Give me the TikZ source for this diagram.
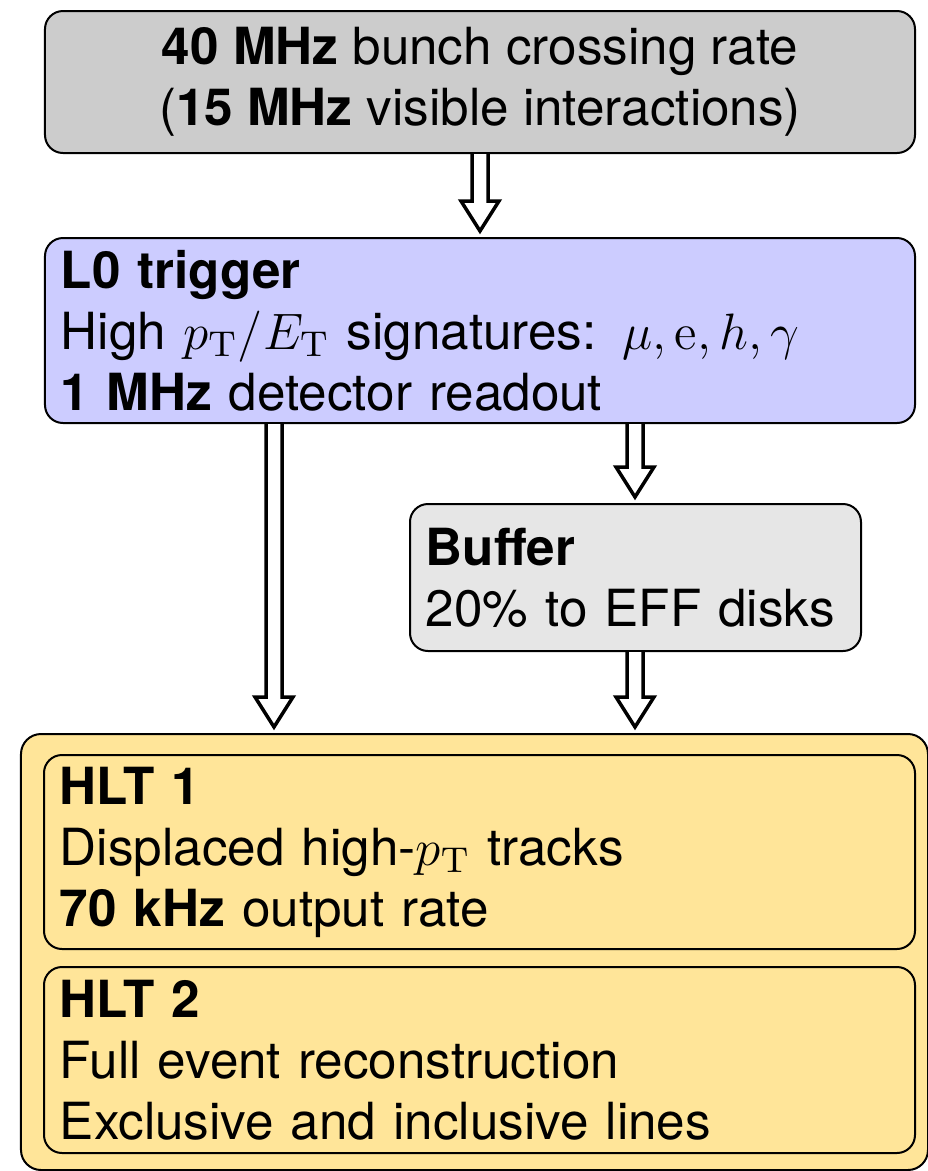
\documentclass[tikz,border=0pt]{standalone}
\usepackage{fix-cm}
\usepackage[no-math]{fontspec}
\setmainfont{TeX Gyre Heros}
\usetikzlibrary{calc}

\definecolor{topgray}{HTML}{CCCCCC}
\definecolor{lzeroblue}{HTML}{CCCCFF}
\definecolor{buffergray}{HTML}{E6E6E6}
\definecolor{hltyellow}{HTML}{FFE599}

\tikzset{
  stage/.style={draw, line width=0.5pt, rounded corners=4.5pt, inner xsep=4pt,
    inner ysep=0pt, anchor=north west, align=left,
    font=\fontsize{12.8}{15.25}\selectfont},
  hollow arrow/.style={draw, fill=white, line width=0.875pt, miter limit=10},
}

% hollow double-shaft arrow from #1 down to #2 (both at the same x)
\newcommand{\hollowarrow}[2]{%
  \draw[hollow arrow] ($(#1)+(-8,0)$) -- ($(#2)+(-8,-36)$) -- ($(#2)+(-19,-36)$)
    -- ($(#2)+(0,-6)$) -- ($(#2)+(19,-36)$) -- ($(#2)+(8,-36)$) -- ($(#1)+(8,0)$);}

\begin{document}
\begin{tikzpicture}[x=0.25pt, y=-0.25pt]
        \useasboundingbox (0,0) rectangle (928,1171);

        % Input rate
        \node[stage, fill=topgray, minimum width=217.5pt, minimum height=35.5pt, align=center] (top) at (44,10)
            {\textbf{40 MHz} bunch crossing rate\\(\textbf{15 MHz} visible interactions)};

        % Level-0
        \node[stage, fill=lzeroblue, text width=209.5pt, minimum height=46.25pt] (l0) at (44,237)
            {\textbf{L0 trigger}\\High $p_\mathrm{T}/E_\mathrm{T}$ signatures: $\mu,\mathrm{e},h,\gamma$\\\textbf{1 MHz} detector readout};

        % Buffer
        \node[stage, fill=buffergray, text width=104.75pt, minimum height=36.75pt] (buffer) at (409,503)
            {\textbf{Buffer}\\20\% to EFF disks};

        % High level trigger
        \node[stage, fill=hltyellow, minimum width=226.75pt, minimum height=109pt, rounded corners=5pt] (hlt) at (20,733) {};
        \node[stage, text width=209.75pt, minimum height=48.5pt] (hlt1) at (43,754)
            {\textbf{HLT 1}\\Displaced high-$p_\mathrm{T}$ tracks\\\textbf{70 kHz} output rate};
        \node[stage, text width=209.75pt, minimum height=46.5pt] (hlt2) at (43,966)
            {\textbf{HLT 2}\\Full event reconstruction\\Exclusive and inclusive lines};

        % Arrows
        \coordinate (left lane) at (274,0);
        \coordinate (right lane) at (635,0);
        \hollowarrow{top.south}{l0.north}
        \hollowarrow{l0.south -| left lane}{hlt.north -| left lane}
        \hollowarrow{l0.south -| right lane}{buffer.north -| right lane}
        \hollowarrow{buffer.south -| right lane}{hlt.north -| right lane}

\end{tikzpicture}
\end{document}
